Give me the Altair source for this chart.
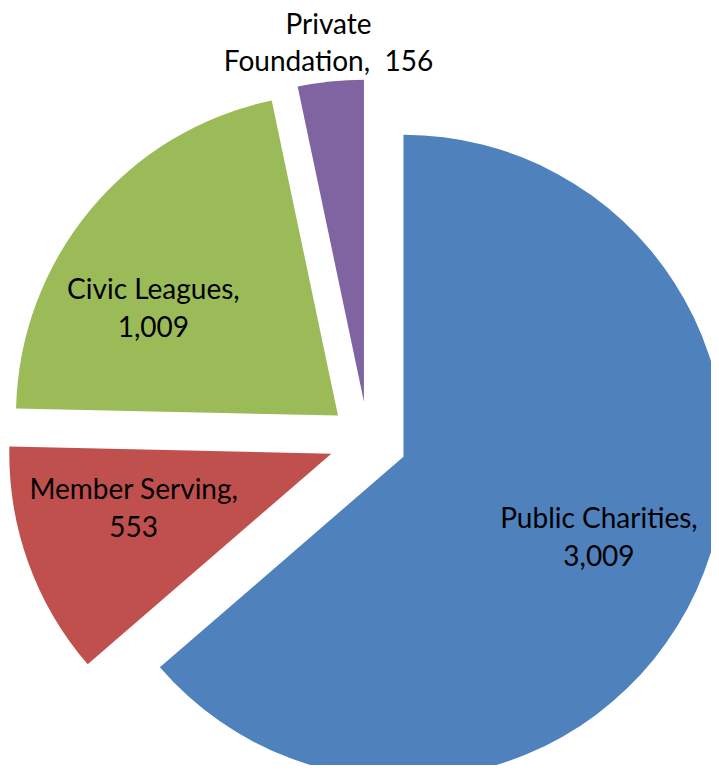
import math
import altair as alt
import pandas as pd

# ---- data ----
categories = ["Public Charities", "Member Serving", "Civic Leagues", "Private Foundation"]
counts = [3009, 553, 1009, 156]
label_lines = [
    ["Public Charities,", "3,009"],
    ["Member Serving,", "553"],
    ["Civic Leagues,", "1,009"],
    ["Private", "Foundation,\u00a0 156"],
]
colors = ["#4F81BD", "#C0504D", "#9BBB59", "#8064A2"]

# ---- layout constants ----
W, H = 703, 757
CX, CY = 360, 432.5   # unexploded pie centre (px)
EXPLODE = 39          # explosion distance (px)
R = 322               # pie radius (px)
LINE_H = 37.5

# label radius and nudges per slice (layout, not data)
label_place = {
    "Public Charities": (210, 4.5, -5),
    "Member Serving": (210, 0, -14.7),
    "Civic Leagues": (210, -23, 28.5),
    "Private Foundation": (362, 2, 3),
}

df = pd.DataFrame({
    "category": categories,
    "count": counts,
    "order": list(range(len(categories))),
    "label": ["\n".join(l) for l in label_lines],
})

base = (
    alt.Chart(df)
    .transform_joinaggregate(total="sum(count)")
    .transform_window(cum="sum(count)", sort=[alt.SortField("order")], frame=[None, 0])
    .transform_calculate(
        f0="(datum.cum - datum.count) / datum.total",
        f1="datum.cum / datum.total",
    )
    .transform_calculate(ang="PI * (datum.f0 + datum.f1)")
    .transform_calculate(
        px=f"{CX} + {EXPLODE} * sin(datum.ang)",
        py=f"{CY} - {EXPLODE} * cos(datum.ang)",
    )
)

theta_scale = alt.Scale(domain=[0, 1], range=[0, 2 * math.pi])

arcs = base.mark_arc(radius=R).encode(
    theta=alt.Theta("f0:Q", scale=theta_scale),
    theta2="f1:Q",
    x=alt.X("px:Q", scale=None, axis=None),
    y=alt.Y("py:Q", scale=None, axis=None),
    color=alt.Color("category:N", scale=alt.Scale(domain=categories, range=colors), legend=None),
)

layers = [arcs]
for cat in categories:
    lr, dx, dy = label_place[cat]
    t = (
        base.transform_filter(alt.datum.category == cat)
        .transform_calculate(
            lx=f"datum.px + {lr} * sin(datum.ang)",
            ly=f"datum.py - {lr} * cos(datum.ang)",
        )
        .mark_text(
            font="Lato", fontSize=28, lineBreak="\n", lineHeight=LINE_H,
            align="center", baseline="middle", dx=dx, dy=dy - LINE_H / 2, color="black",
        )
        .encode(
            x=alt.X("lx:Q", scale=None, axis=None),
            y=alt.Y("ly:Q", scale=None, axis=None),
            text="label:N",
        )
    )
    layers.append(t)

chart = (
    alt.layer(*layers)
    .properties(width=W, height=H, padding=0, autosize=alt.AutoSizeParams(type="none"))
    .configure_view(stroke=None)
)

chart.save("out.html", embed_options={"renderer": "svg", "actions": False})
